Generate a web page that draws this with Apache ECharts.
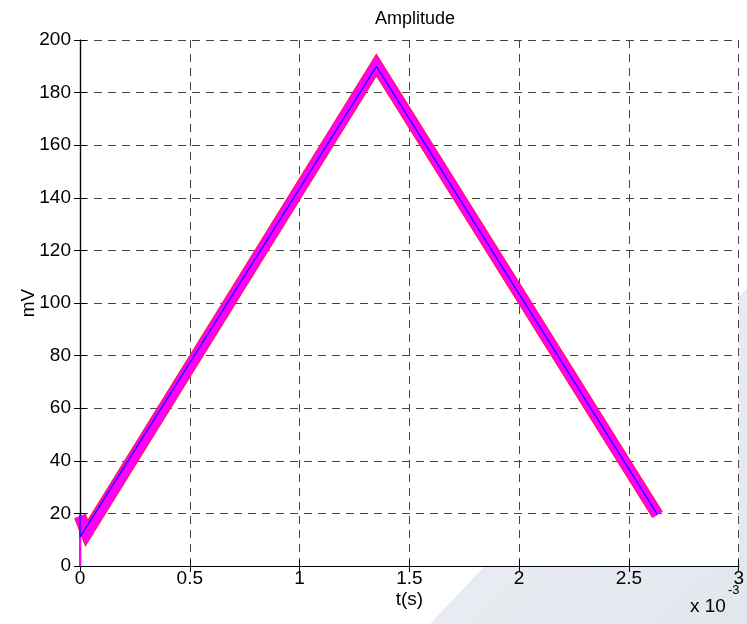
<!DOCTYPE html>
<html>
<head>
<meta charset="utf-8">
<title>Amplitude</title>
<script src="https://cdn.jsdelivr.net/npm/echarts@6/dist/echarts.min.js"></script>
<style>
  html, body { margin: 0; padding: 0; background: #ffffff; }
  #chart { width: 747px; height: 624px; }
</style>
</head>
<body>
<div id="chart"></div>
<script>
// Time in units of 1e-3 s, amplitude in mV
var markerTime = [0, 0.03, 1.35, 2.63];
var markerAmp  = [19, 12.5, 190.5, 19.5];

var traceTime = [0, 0, 1.35, 2.63];
var traceAmp  = [20, 11, 190, 19.5];

var stemTime = [0, 0];
var stemAmp  = [0, 18];

var xTicks = [0, 0.5, 1, 1.5, 2, 2.5, 3];
var yTicks = [0, 20, 40, 60, 80, 100, 120, 140, 160, 180, 200];

function pairs(xs, ys) {
  return xs.map(function (x, i) { return [x, ys[i]]; });
}

var font = 'Liberation Sans, Arial, Helvetica, sans-serif';
var chart = echarts.init(document.getElementById('chart'), null, { renderer: 'canvas' });

var gridLine = { show: true, lineStyle: { color: '#444444', type: [8, 6], width: 1 } };
var axisLine = { show: true, lineStyle: { color: '#000', width: 1.2 } };
var tick = { show: true, inside: true, length: 6, lineStyle: { color: '#000' } };

chart.setOption({
  backgroundColor: '#ffffff',
  animation: false,
  graphic: [
    {
      type: 'polygon', z: -10,
      shape: { points: [[430, 624], [747, 288], [747, 624]] },
      style: {
        fill: new echarts.graphic.LinearGradient(0, 0, 1, 1, [
          { offset: 0, color: '#eef1f5' },
          { offset: 1, color: '#e2e7ee' }
        ])
      }
    },
    {
      type: 'text', left: 690, top: 597,
      style: { text: 'x 10', font: '19px ' + font, fill: '#000' }
    },
    {
      type: 'text', left: 728, top: 584,
      style: { text: '-3', font: '13px ' + font, fill: '#000' }
    }
  ],
  title: {
    text: 'Amplitude', left: 410, top: 5, textAlign: 'center',
    textStyle: { fontFamily: font, fontSize: 18, fontWeight: 'normal', color: '#000' }
  },
  grid: { left: 80, right: 7, top: 40, bottom: 58, show: true, backgroundColor: '#ffffff', borderWidth: 0 },
  xAxis: [
    {
      type: 'value', min: 0, max: 3, interval: 0.5, position: 'bottom',
      name: 't(s)', nameLocation: 'middle', nameGap: 24, nameMoveOverlap: false,
      nameTextStyle: { fontFamily: font, fontSize: 19, color: '#000' },
      axisLine: axisLine, axisTick: tick, splitLine: gridLine,
      axisLabel: { fontFamily: font, fontSize: 19, color: '#000', margin: 3 }
    },
    {
      type: 'value', min: 0, max: 3, interval: 0.5, position: 'top',
      axisLine: axisLine, axisTick: tick, splitLine: { show: false },
      axisLabel: { show: false }
    }
  ],
  yAxis: [
    {
      type: 'value', min: 0, max: 200, interval: 20, position: 'left',
      name: 'mV', nameLocation: 'middle', nameGap: 42, nameRotate: 90, nameMoveOverlap: false,
      nameTextStyle: { fontFamily: font, fontSize: 19, color: '#000' },
      axisLine: axisLine, axisTick: tick, splitLine: gridLine,
      axisLabel: { fontFamily: font, fontSize: 19, color: '#000', margin: 9 }
    },
    {
      type: 'value', min: 0, max: 200, interval: 20, position: 'right',
      axisLine: axisLine, axisTick: tick, splitLine: { show: false },
      axisLabel: { show: false }
    }
  ],
  series: [
    {
      type: 'line', name: 'edge', data: pairs(markerTime, markerAmp),
      symbol: 'none', clip: false, z: 3,
      lineStyle: { color: '#ff2020', width: 12.5, join: 'miter' }
    },
    {
      type: 'line', name: 'markers', data: pairs(markerTime, markerAmp),
      symbol: 'none', clip: false, z: 4,
      lineStyle: { color: '#ff00ff', width: 10.5, join: 'miter' }
    },
    {
      type: 'line', name: 'stem', data: pairs(stemTime, stemAmp),
      symbol: 'none', clip: false, z: 5,
      lineStyle: { color: '#ff00ff', width: 2 }
    },
    {
      type: 'line', name: 'trace', data: pairs(traceTime, traceAmp),
      symbol: 'none', clip: false, z: 6,
      lineStyle: { color: '#1010ff', width: 1.3 }
    }
  ]
});
</script>
</body>
</html>
